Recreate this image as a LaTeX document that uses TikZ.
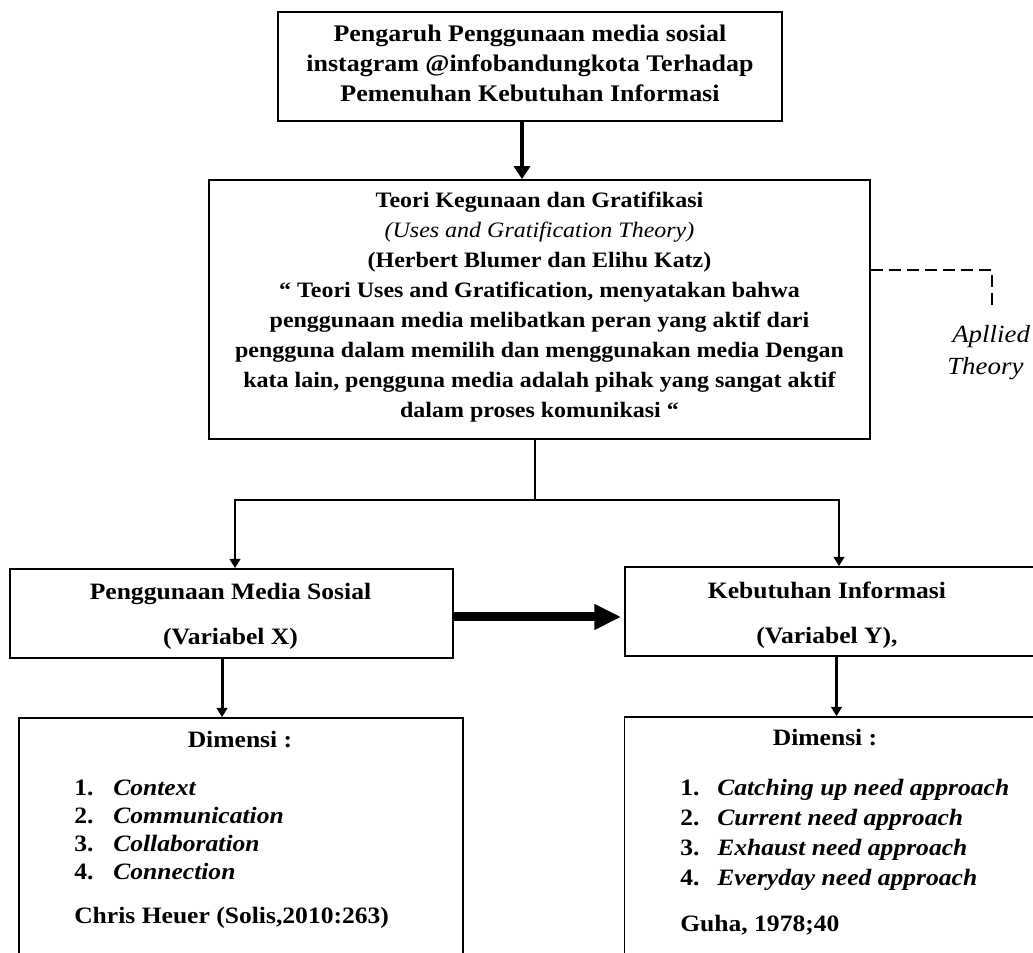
\documentclass[tikz,border=0pt]{standalone}
\usepackage{fontspec}
\setmainfont{Liberation Serif}[FakeStretch=1.09]
\usetikzlibrary{arrows.meta}
\newcommand\lnum[1]{\makebox[29.25pt][l]{#1}}
\newcommand\rnum[1]{\makebox[27.75pt][l]{#1}}
\begin{document}
\begin{tikzpicture}[x=0.75pt,y=-0.75pt,
  box/.style={draw=black,line width=1.3pt,inner sep=0pt},
  conn/.style={line width=2.2pt},
  arr/.style={conn,-{Triangle[width=8pt,length=7pt]}},
  bigarr/.style={line width=2.5pt,-{Triangle[width=12pt,length=9.75pt]}},
  fatarr/.style={line width=6.75pt,-{Triangle[width=18pt,length=20pt]}},
  dashln/.style={line width=1.2pt,dash pattern=on 9pt off 4.5pt},
  txt/.style={inner sep=0pt,align=center},
  topfont/.style={font={\fontsize{17.85pt}{22.5pt}\selectfont\bfseries}},
  thfont/.style={font={\fontsize{16.5pt}{22.5pt}\selectfont\bfseries}},
  varfont/.style={font={\fontsize{17.6pt}{33.75pt}\selectfont\bfseries}},
  dimfont/.style={font={\fontsize{17.6pt}{21pt}\selectfont\bfseries}},
  dimfontr/.style={font={\fontsize{17.6pt}{22.5pt}\selectfont\bfseries}},
  appfont/.style={font={\fontsize{18.5pt}{22pt}\selectfont\itshape}}
]
\fill[white] (0,0) rectangle (1033,953);
\useasboundingbox (0,0) rectangle (1033,953);

% boxes
\node[box,minimum width=378pt,minimum height=81.75pt] (top) at (530,66.5) {};
\node[box,minimum width=495.75pt,minimum height=194.25pt] (theory) at (539.5,309.5) {};
\node[box,minimum width=332.25pt,minimum height=66.75pt] (varL) at (231.5,613.5) {};
\node[box,minimum width=310.5pt,minimum height=66.75pt] (varR) at (832,611.5) {};
\node[box,minimum width=333pt,minimum height=189pt] (dimL) at (241,844) {};
\node[box,minimum width=311.25pt,minimum height=189.75pt] (dimR) at (832,843.5) {};

% texts
\node[txt,topfont] (toptxt) at (530,63) {Pengaruh Penggunaan media sosial\\instagram @infobandungkota Terhadap\\Pemenuhan Kebutuhan Informasi};
\node[txt,thfont] (thtxt) at (539.5,307) {Teori Kegunaan dan Gratifikasi\\
{\mdseries\itshape (Uses and Gratification Theory)}\\
(Herbert Blumer dan Elihu Katz)\\
“ Teori Uses and Gratification, menyatakan bahwa\\
penggunaan media melibatkan peran yang aktif dari\\
pengguna dalam memilih dan menggunakan media Dengan\\
kata lain, pengguna media adalah pihak yang sangat aktif\\
dalam proses komunikasi “};
\node[txt,varfont] (varLtxt) at (230.5,616) {Penggunaan Media Sosial\\(Variabel X)};
\node[txt,varfont] (varRtxt) at (827,615) {Kebutuhan Informasi\\(Variabel Y),};

\node[txt,dimfont] (dimLh) at (240,740) {Dimensi :};
\node[inner sep=0pt,anchor=base west,dimfont] (dimLlist) at (74,795) {\begin{tabular}[t]{@{}l@{}}
\lnum{1.}\textit{Context}\\
\lnum{2.}\textit{Communication}\\
\lnum{3.}\textit{Collaboration}\\
\lnum{4.}\textit{Connection}
\end{tabular}};
\node[inner sep=0pt,anchor=base west,dimfont] (dimLsrc) at (74,923) {Chris Heuer (Solis,2010:263)};

\node[txt,dimfontr] (dimRh) at (825,738) {Dimensi :};
\node[inner sep=0pt,anchor=base west,dimfontr] (dimRlist) at (680,795) {\begin{tabular}[t]{@{}l@{}}
\rnum{1.}\textit{Catching up need approach}\\
\rnum{2.}\textit{Current need approach}\\
\rnum{3.}\textit{Exhaust need approach}\\
\rnum{4.}\textit{Everyday need approach}
\end{tabular}};
\node[inner sep=0pt,anchor=base west,dimfontr] (dimRsrc) at (680,931) {Guha, 1978;40};

\node[inner sep=0pt,anchor=base west,appfont] (app1) at (952,342) {Apllied};
\node[inner sep=0pt,anchor=base west,appfont] (app2) at (947,374) {Theory};

% connectors
\coordinate (ta) at ([xshift=-6pt]top.south);
\draw[bigarr] (ta) -- (ta |- theory.north);

\coordinate (split) at (535,500);
\coordinate (jl) at (235,500);
\coordinate (jr) at (839,500);
\draw[conn] (theory.south -| split) -- (split);
\draw[arr] (split) -- (jl) -- (jl |- varL.north);
\draw[arr] (split) -- (jr) -- (jr |- varR.north);

\draw[fatarr,shorten >=2.25pt] ([yshift=-2.6pt]varL.east) -- ([yshift=-4.1pt]varR.west);

\coordinate (la) at ([xshift=-7.1pt]varL.south);
\draw[arr] (la) -- (la |- dimL.north);
\coordinate (ra) at ([xshift=3.4pt]varR.south);
\draw[arr] (ra) -- (ra |- dimR.north);

\coordinate (dk) at (992,270);
\coordinate (dend) at (992,310);
\draw[dashln] (theory.east |- dk) -- (dk) -- (dend);
\end{tikzpicture}
\end{document}
